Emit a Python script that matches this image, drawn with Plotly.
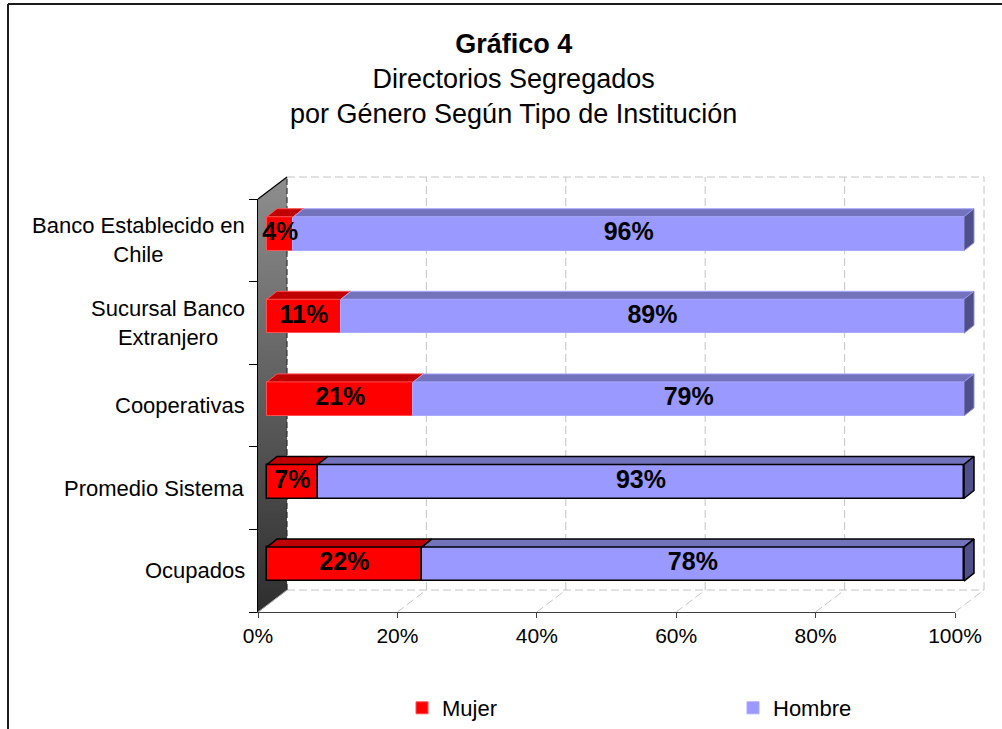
import plotly.graph_objects as go

# ---------------- data ----------------
categories = ["Banco Establecido en<br>Chile", "Sucursal Banco<br>Extranjero",
              "Cooperativas", "Promedio Sistema", "Ocupados"]
mujer = [3.8, 10.6, 21.0, 7.3, 22.2]
hombre = [96.2, 89.4, 79.0, 92.7, 77.8]
x_ticks = [0, 20, 40, 60, 80, 100]
x_tick_labels = ["0%", "20%", "40%", "60%", "80%", "100%"]
series_names = ["Mujer", "Hombre"]
title_lines = ["Gráfico 4", "Directorios Segregados", "por Género Según Tipo de Institución"]
outlined = [False, False, False, True, True]

# ---------------- layout constants (pixels) ----------------
W, H = 1002, 729
FX0, FX1 = 258, 955          # front axis extent
FY_TOP, FY_BOT = 199, 612    # front category extent
MX0, MX1 = 236, 1000         # drawing area
MY_TOP, MY_BOT = 150, 640
FONT = "Liberation Sans, Arial, sans-serif"
LEGEND_X = {"Mujer": 402, "Hombre": 733}

n = len(categories)
sx = (FX1 - FX0) / 100.0
sy = (FY_BOT - FY_TOP) / n


def ux(px):
    return px / sx


def uy(px):
    return px / sy


DX, DY = ux(29), uy(22)      # full depth of the 3D box
OFX, OFY = ux(9), uy(6.6)    # bar front offset
BDX, BDY = ux(10), uy(8)     # bar depth
BH = uy(34)                  # bar thickness

ypos = [n - 1 - i for i in range(n)]
rng_x = [(MX0 - FX0) / sx, (MX1 - FX0) / sx]
rng_y = [-0.5 - (MY_BOT - FY_BOT) / sy, -0.5 + (FY_BOT - MY_TOP) / sy]

colors = {"Mujer": ("#FF0000", "#C00000", "#FF5050"),
          "Hombre": ("#9999FF", "#7373BD", "#A8A8FF")}
END_COLOR = "#4F4F8A"
GRID = "#C4C4C4"

fig = go.Figure()

# ---------- base subplot: floor, back wall, side wall ----------
gx, gy = [], []
for v in x_ticks:
    gx += [v, v + DX, None]
    gy += [-0.5, -0.5 + DY, None]
    gx += [v + DX, v + DX, None]
    gy += [-0.5 + DY, n - 0.5 + DY, None]
gx += [DX, 100 + DX, None, DX, 100 + DX]
gy += [-0.5 + DY, -0.5 + DY, None, n - 0.5 + DY, n - 0.5 + DY]
fig.add_trace(go.Scatter(x=gx, y=gy, mode="lines", xaxis="x", yaxis="y",
                         line=dict(color=GRID, width=1, dash="8px,4px"),
                         showlegend=False, hoverinfo="skip"))

fig.add_trace(go.Scatter(x=[0, 0, DX, DX, 0], y=[-0.5, n - 0.5, n - 0.5 + DY, -0.5 + DY, -0.5],
                         mode="lines", fill="toself", xaxis="x", yaxis="y",
                         line=dict(width=0, color="rgba(0,0,0,0)"),
                         fillgradient=dict(type="vertical",
                                           colorscale=[[0, "#2E2E2E"], [1, "#8E8E8E"]]),
                         showlegend=False, hoverinfo="skip"))
fig.add_trace(go.Scatter(x=[0, DX], y=[n - 0.5, n - 0.5 + DY], mode="lines",
                         xaxis="x", yaxis="y", line=dict(color="#000000", width=1.2),
                         showlegend=False, hoverinfo="skip"))
fig.add_trace(go.Scatter(x=[DX, DX], y=[-0.5 + DY, n - 0.5 + DY], mode="lines",
                         xaxis="x", yaxis="y", line=dict(color="#202020", width=1, dash="6px,3px"),
                         showlegend=False, hoverinfo="skip"))
fig.add_trace(go.Scatter(x=[0, DX], y=[-0.5, -0.5 + DY], mode="lines",
                         xaxis="x", yaxis="y", line=dict(color="#9A9A9A", width=1),
                         showlegend=False, hoverinfo="skip"))

# ---------- overlay subplot: bars ----------
starts = {"Mujer": [0.0] * n, "Hombre": list(mujer)}
values = {"Mujer": mujer, "Hombre": hombre}
legend_ids = {"Mujer": "legend", "Hombre": "legend2"}

for name in series_names:
    front, top, light = colors[name]
    fig.add_trace(go.Bar(
        name=name, orientation="h", xaxis="x3", yaxis="y3", legend=legend_ids[name],
        y=[p + OFY for p in ypos], x=values[name],
        base=[s + OFX for s in starts[name]], width=BH,
        marker=dict(color=front,
                    line=dict(color=["#000000" if o else light for o in outlined],
                              width=[1.5 if o else 1 for o in outlined])),
        hoverinfo="skip"))

for name in series_names:
    front, top, light = colors[name]
    for i in range(n):
        xa = starts[name][i] + OFX
        xb = xa + values[name][i]
        y0 = ypos[i] + OFY - BH / 2
        y1 = y0 + BH
        lc = "#000000" if outlined[i] else light
        lw = 1.5 if outlined[i] else 1
        fig.add_trace(go.Scatter(
            x=[xa, xb, xb + BDX, xa + BDX, xa], y=[y1, y1, y1 + BDY, y1 + BDY, y1],
            mode="lines", fill="toself", fillcolor=top, line=dict(color=lc, width=lw),
            xaxis="x3", yaxis="y3", showlegend=False, hoverinfo="skip"))
        if name == series_names[-1]:
            fig.add_trace(go.Scatter(
                x=[xb, xb, xb + BDX, xb + BDX, xb], y=[y0, y1, y1 + BDY, y0 + BDY, y0],
                mode="lines", fill="toself", fillcolor=END_COLOR,
                line=dict(color=lc if outlined[i] else "#9090E0", width=lw),
                xaxis="x3", yaxis="y3", showlegend=False, hoverinfo="skip"))

tx, ty, tt = [], [], []
for name in series_names:
    for i in range(n):
        tx.append(starts[name][i] + OFX + values[name][i] / 2)
        ty.append(ypos[i] + OFY)
        tt.append(f"{values[name][i]:.0f}%")
fig.add_trace(go.Scatter(x=tx, y=ty, text=tt, mode="text", xaxis="x3", yaxis="y3",
                         textfont=dict(family=FONT, size=25, color="#000000", weight="bold"),
                         showlegend=False, hoverinfo="skip", cliponaxis=False))

# front axes holder
fig.add_trace(go.Scatter(x=[None], y=[None], xaxis="x2", yaxis="y2",
                         showlegend=False, hoverinfo="skip"))

annotations = [dict(
    text="<b>" + title_lines[0] + "</b><br>" + "<br>".join(title_lines[1:]),
    xref="paper", yref="paper", x=513 / W, y=1 - 79 / H, xanchor="center", yanchor="middle",
    showarrow=False, align="center", font=dict(family=FONT, size=27, color="#000000"))]
for i, c in enumerate(categories):
    annotations.append(dict(text=c, xref="paper", yref="y2", x=247 / W, y=ypos[i],
                            xanchor="right", yanchor="middle", align="center", showarrow=False,
                            font=dict(family=FONT, size=22, color="#000000")))


def legend_cfg(name):
    return dict(orientation="h", x=LEGEND_X[name] / W, xanchor="left", y=0, yanchor="bottom",
                font=dict(family=FONT, size=22, color="#000000"),
                bgcolor="rgba(0,0,0,0)", borderwidth=0)


fig.update_layout(
    width=W, height=H, autosize=False,
    margin=dict(l=0, r=0, t=0, b=0, pad=0, autoexpand=False),
    paper_bgcolor="#FFFFFF", plot_bgcolor="rgba(0,0,0,0)",
    barmode="overlay", bargap=0,
    font=dict(family=FONT, color="#000000"),
    xaxis=dict(domain=[MX0 / W, MX1 / W], range=rng_x, visible=False, fixedrange=True),
    yaxis=dict(domain=[1 - MY_BOT / H, 1 - MY_TOP / H], range=rng_y, visible=False, fixedrange=True),
    xaxis3=dict(overlaying="x", range=rng_x, visible=False, fixedrange=True),
    yaxis3=dict(overlaying="y", range=rng_y, visible=False, fixedrange=True),
    xaxis2=dict(domain=[FX0 / W, FX1 / W], range=[0, 100], anchor="y2",
                showline=True, linecolor="#404040", linewidth=1,
                ticks="outside", ticklen=5, tickcolor="#404040",
                tickmode="array", tickvals=x_ticks, ticktext=x_tick_labels,
                tickfont=dict(family=FONT, size=21, color="#000000"),
                showgrid=False, zeroline=False, fixedrange=True),
    yaxis2=dict(domain=[1 - FY_BOT / H, 1 - FY_TOP / H], range=[-0.5, n - 0.5], anchor="x2",
                showline=True, linecolor="#000000", linewidth=1,
                tickmode="array", tickvals=ypos, ticks="", showticklabels=False,
                minor=dict(tickmode="array", tickvals=[k - 0.5 for k in range(n + 1)],
                           ticks="outside", ticklen=8, tickcolor="#000000", showgrid=False),
                showgrid=False, zeroline=False, fixedrange=True),
    legend=legend_cfg("Mujer"),
    legend2=legend_cfg("Hombre"),
    annotations=annotations,
    shapes=[
        dict(type="line", xref="paper", yref="paper", x0=8 / W, x1=8 / W, y0=0, y1=1 - 4 / H,
             line=dict(color="#1A1A1A", width=2)),
        dict(type="line", xref="paper", yref="paper", x0=8 / W, x1=1, y0=1 - 4 / H, y1=1 - 4 / H,
             line=dict(color="#1A1A1A", width=2)),
    ],
)

fig.write_html("out.html", config={"displayModeBar": False},
               post_script="document.body.style.margin='0px';")
